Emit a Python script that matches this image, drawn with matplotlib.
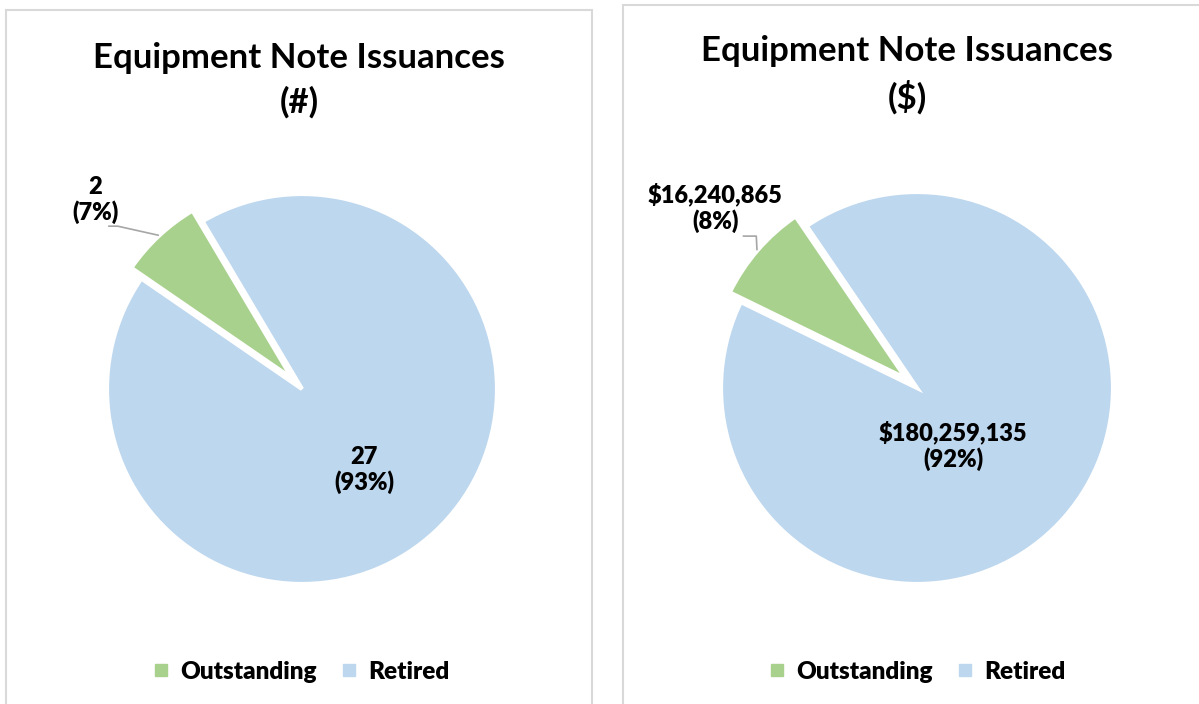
import numpy as np
import matplotlib
matplotlib.use("Agg")
import matplotlib.pyplot as plt
from matplotlib.patches import Rectangle
from matplotlib.lines import Line2D

# data
categories = ["Outstanding", "Retired"]
counts = [2, 27]
amounts = [16240865, 180259135]
titles = ["Equipment Note Issuances\n(#)", "Equipment Note Issuances\n($)"]
colors = ["#A9D18E", "#BDD7EE"]

plt.rcParams['font.family'] = ['Lato', 'DejaVu Sans']
plt.rcParams['font.weight'] = 'bold'

W, H = 1199, 704
fig = plt.figure(figsize=(W / 100, H / 100), dpi=100)

def px(x, y):
    # pixel (from top-left) -> figure fraction
    return x / W, 1 - y / H

def fmt_count(v):
    return "{:,}".format(v)

def fmt_money(v):
    return "${:,}".format(v)

panels = [
    # border box, pie centre, radius, start angle, title pos, label offsets, legend pos
    dict(box=(6, 10, 592), c=(302, 389), r=195, start=145.5, tpos=(299, 80),
         vals=counts, fmt=fmt_count, out_lab=(-1.06, 0.97), ret_lab=(0.32, -0.415),
         elbow=[(-0.99, 0.835), (-0.945, 0.835)], leg=(299, 672)),
    dict(box=(623, 5, 1206), c=(917, 388), r=196, start=154.0, tpos=(907, 75),
         vals=amounts, fmt=fmt_money, out_lab=(-1.03, 0.92), ret_lab=(0.185, -0.295),
         elbow=[(-0.885, 0.775), (-0.82, 0.775)], leg=(915, 672)),
]

for p, title in zip(panels, titles):
    x0, y0, x1 = p["box"]
    fx0, fy0 = px(x0, y0)
    fig.patches.append(Rectangle((fx0, -0.05), (x1 - x0) / W, fy0 + 0.05,
                                 transform=fig.transFigure, facecolor="white",
                                 edgecolor="#d9d9d9", lw=1.5, zorder=-10))

    k = 1.5
    cx, cy = p["c"]
    half = p["r"] * k
    ax = fig.add_axes([(cx - half) / W, (H - cy - half) / H, 2 * half / W, 2 * half / H])
    ax.patch.set_visible(False)
    vals = p["vals"]
    total = sum(vals)
    wedges, _ = ax.pie(vals, colors=colors, startangle=p["start"], counterclock=False,
                       explode=[0.075, 0], wedgeprops=dict(edgecolor="white", linewidth=3))
    ax.set_xlim(-k, k)
    ax.set_ylim(-k, k)
    ax.set_aspect("equal")
    ax.axis("off")

    pcts = [round(100 * v / total) for v in vals]
    # outstanding label with leader line
    w = wedges[0]
    mid = np.deg2rad((w.theta1 + w.theta2) / 2)
    ex, ey = 1.08 * np.cos(mid), 1.08 * np.sin(mid)
    (ax1, ay1), (ax2, ay2) = p["elbow"]
    ax.plot([ax1, ax2, ex], [ay1, ay2, ey], color="#a6a6a6", lw=1.2, clip_on=False)
    ax.text(p["out_lab"][0], p["out_lab"][1], "%s\n(%d%%)" % (p["fmt"](vals[0]), pcts[0]),
            ha="center", va="center", fontsize=17, fontweight="heavy", linespacing=1.15,
            clip_on=False)
    ax.text(p["ret_lab"][0], p["ret_lab"][1], "%s\n(%d%%)" % (p["fmt"](vals[1]), pcts[1]),
            ha="center", va="center", fontsize=17, fontweight="heavy", linespacing=1.15)

    tx, ty = px(*p["tpos"])
    fig.text(tx, ty, title, ha="center", va="center", fontsize=25, fontweight="bold",
             linespacing=1.45)

    handles = [Line2D([], [], marker="s", ls="", color=c, markersize=8) for c in colors]
    lx, ly = px(*p["leg"])
    fig.legend(handles, categories, loc="center", bbox_to_anchor=(lx, ly), ncol=2,
               frameon=False, prop=dict(size=17.5, weight="heavy"), handletextpad=0.3,
               columnspacing=0.8, handlelength=1.0)

fig.savefig("out.png", dpi=100)
